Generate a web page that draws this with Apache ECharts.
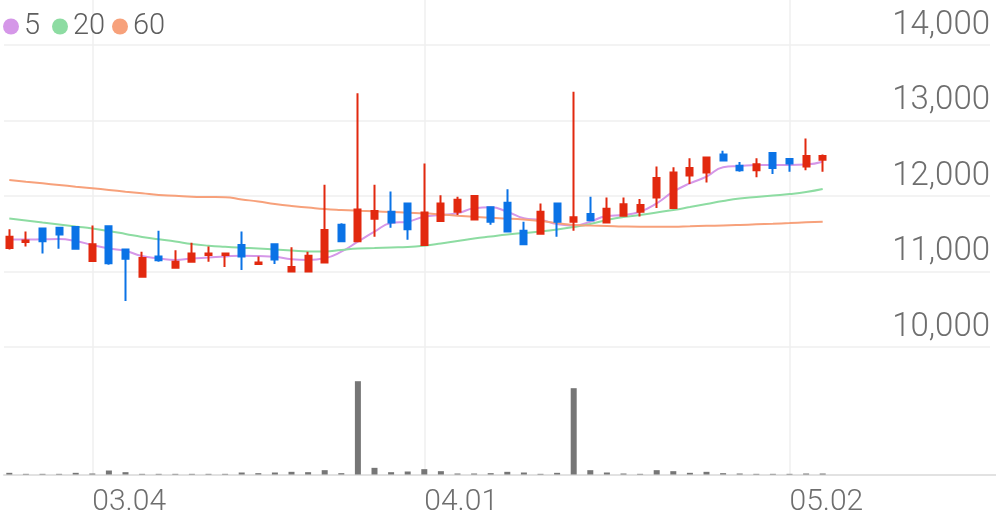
<!DOCTYPE html>
<html><head><meta charset="utf-8">
<script src="https://cdn.jsdelivr.net/npm/echarts@6/dist/echarts.min.js"></script>
<style>html,body{margin:0;padding:0;background:#fff}#c{width:996px;height:519px}</style>
</head><body><div id="c"></div>
<script>
const dates = ['02.22','02.25','02.26','02.27','02.28','03.04','03.05','03.06','03.07','03.08',
  '03.11','03.12','03.13','03.14','03.15','03.18','03.19','03.20','03.21','03.22',
  '03.25','03.26','03.27','03.28','03.29','04.01','04.02','04.03','04.04','04.05',
  '04.08','04.09','04.10','04.11','04.12','04.15','04.16','04.17','04.18','04.19',
  '04.22','04.23','04.24','04.25','04.26','04.29','04.30','05.02','05.03','05.07'];
const tickLabels = ['03.04','04.01','05.02'];
const maNames = ['5', '20', '60'];
const openP  = [11310,11390,11570,11580,11590,11140,11600,11290,10930,11200,
  11050,11130,11220,11220,11350,11100,11360,11000,11000,11120,
  11620,11400,11700,11790,11900,11350,11670,11790,11690,11850,
  11910,11540,11500,11900,11660,11760,11650,11740,11790,11980,
  11840,12270,12310,12550,12400,12340,12570,12490,12390,12480];
const closeP = [11460,11410,11400,11490,11300,11360,11110,11170,11180,11150,
  11130,11240,11240,11240,11200,11120,11160,11060,11210,11550,
  11400,11820,11800,11650,11560,11780,11900,11950,12000,11660,
  11530,11360,11790,11660,11720,11680,11830,11890,11880,12240,
  12310,12370,12510,12470,12340,12420,12370,12430,12530,12530];
const lowP   = [11290,11330,11240,11300,11300,11140,11090,10610,10930,11130,
  11050,11130,11130,11060,11020,11100,11100,11000,11000,11120,
  11400,11400,11460,11580,11420,11350,11670,11750,11690,11620,
  11520,11360,11500,11460,11540,11680,11650,11740,11730,11840,
  11840,12160,12180,12470,12320,12250,12290,12320,12340,12320];
const highP  = [11560,11530,11570,11580,11590,11610,11600,11290,11260,11540,
  11280,11380,11330,11240,11530,11200,11360,11320,11260,12150,
  11640,13360,12150,12060,11900,12430,12010,11990,12000,11850,
  12090,11660,11900,11900,13380,11990,11980,11980,11960,12390,
  12380,12500,12510,12600,12450,12500,12570,12490,12760,12550];
const ma5  = [11424,11424,11427,11430,11404,11351,11305,11272,11205,11175,
  11152,11172,11185,11199,11209,11205,11196,11162,11152,11175,
  11262,11395,11527,11642,11660,11726,11748,11771,11837,11850,
  11792,11705,11682,11629,11607,11660,11735,11748,11792,11903,
  12057,12168,12256,12380,12397,12411,12411,12411,12417,12454];
const ma20 = [11702,11676,11649,11623,11596,11570,11536,11497,11457,11426,
  11397,11364,11342,11327,11315,11305,11291,11278,11265,11265,
  11285,11305,11311,11318,11324,11342,11371,11404,11437,11464,
  11490,11510,11530,11556,11589,11629,11682,11722,11748,11781,
  11815,11854,11894,11934,11967,11987,12007,12026,12053,12093];
const ma60 = [12212,12189,12168,12146,12123,12102,12080,12057,12036,12013,
  12003,11991,11987,11983,11954,11927,11894,11868,11848,11828,
  11815,11805,11797,11788,11779,11771,11755,11739,11725,11711,
  11702,11689,11669,11642,11616,11609,11603,11596,11593,11593,
  11593,11599,11605,11609,11616,11625,11633,11642,11652,11660];
const volume = [25000,10000,10000,10000,25000,15000,60000,35000,10000,10000,
  10000,10000,10000,10000,30000,20000,30000,40000,35000,65000,
  20000,1400000,100000,35000,45000,80000,50000,15000,15000,20000,
  40000,30000,10000,25000,1295000,65000,30000,15000,10000,65000,
  50000,25000,40000,20000,15000,10000,10000,10000,15000,15000];
const priceMin = 10000, priceMax = 14000, priceStep = 1000;

const ohlc = dates.map((d, i) => [openP[i], closeP[i], lowP[i], highP[i]]);
const UP = '#e2290f', DOWN = '#0b73e6';
const fmt = v => String(v).replace(/\B(?=(\d{3})+(?!\d))/g, ',');
const isTick = (i) => tickLabels.indexOf(dates[i]) >= 0;
const legendLeft = [3, 52, 112];
const legends = maNames.map((n, k) => ({
  data: [n], left: legendLeft[k], top: 12, padding: 0,
  icon: 'circle', itemWidth: 16, itemHeight: 16,
  textStyle: { fontSize: 29, color: '#5e5e5e', fontFamily: 'Roboto', fontWeight: 300 }
}));

const chart = echarts.init(document.getElementById('c'));
chart.setOption({
  animation: false,
  backgroundColor: '#fff',
  legend: legends,
  grid: [
    { left: 4, right: 6, top: 45, height: 302 },
    { left: 1, width: 830, top: 45, height: 302 },
    { left: 1, width: 830, top: 381.2, height: 93.3 },
    { left: 9.3, width: 813.4, top: 0, height: 474.5 },
    { left: 4, right: 0, top: 381, height: 93.5 }
  ],
  xAxis: [
    { type: 'value', gridIndex: 0, min: 0, max: 1, show: false },
    { type: 'category', gridIndex: 1, data: dates, boundaryGap: true, show: false },
    { type: 'category', gridIndex: 2, data: dates, boundaryGap: true, show: false },
    { type: 'category', gridIndex: 3, data: dates, boundaryGap: false,
      axisLine: { show: false }, axisTick: { show: false },
      splitLine: { show: true, interval: (i) => isTick(i), lineStyle: { color: '#efefef', width: 1.5 } },
      axisLabel: { interval: (i) => isTick(i), align: 'left', margin: 13, fontSize: 30,
        color: '#6e6e6e', fontFamily: 'Roboto', fontWeight: 300 } },
    { type: 'value', gridIndex: 4, min: 0, max: 1, axisLine: { show: true, lineStyle: { color: '#e2e2e2', width: 2 } },
      axisTick: { show: false }, axisLabel: { show: false }, splitLine: { show: false } }
  ],
  yAxis: [
    { type: 'value', gridIndex: 0, min: priceMin, max: priceMax, interval: priceStep, position: 'right',
      axisLine: { show: false }, axisTick: { show: false },
      splitLine: { show: true, lineStyle: { color: '#efefef', width: 1.5 } },
      axisLabel: { inside: true, margin: 0, formatter: fmt, fontSize: 33, color: '#6e6e6e',
        fontFamily: 'Roboto', fontWeight: 300, verticalAlign: 'bottom', align: 'right', padding: [0, 0, 3, 0] } },
    { type: 'value', gridIndex: 1, min: priceMin, max: priceMax, show: false },
    { type: 'value', gridIndex: 2, min: 0, max: Math.max.apply(null, volume), show: false },
    { type: 'value', gridIndex: 3, min: 0, max: 1, show: false },
    { type: 'value', gridIndex: 4, min: 0, max: 1, show: false }
  ],
  series: [
    { name: maNames[0], type: 'line', xAxisIndex: 1, yAxisIndex: 1, data: ma5, smooth: true, symbol: 'none', z: 3,
      itemStyle: { color: '#d597e8' }, lineStyle: { color: '#d597e8', width: 2 } },
    { name: maNames[1], type: 'line', xAxisIndex: 1, yAxisIndex: 1, data: ma20, smooth: true, symbol: 'none', z: 3,
      itemStyle: { color: '#8ddca2' }, lineStyle: { color: '#8ddca2', width: 2 } },
    { name: maNames[2], type: 'line', xAxisIndex: 1, yAxisIndex: 1, data: ma60, smooth: true, symbol: 'none', z: 3,
      itemStyle: { color: '#f7a17b' }, lineStyle: { color: '#f7a17b', width: 2 } },
    { name: 'k', type: 'candlestick', xAxisIndex: 1, yAxisIndex: 1, data: ohlc, barWidth: 6.5, z: 4,
      itemStyle: { color: UP, color0: DOWN, borderColor: UP, borderColor0: DOWN, borderWidth: 2 } },
    { name: 'vol', type: 'bar', xAxisIndex: 2, yAxisIndex: 2, data: volume, barWidth: 6,
      itemStyle: { color: '#767676' } }
  ]
});
</script></body></html>
